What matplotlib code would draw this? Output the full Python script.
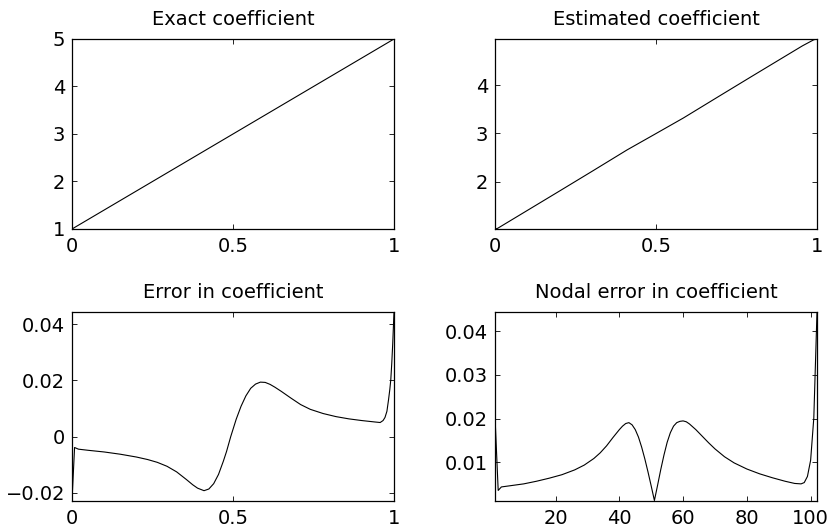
"""Coefficient recovery: exact vs estimated coefficient and the error, 2x2 panel figure."""
import numpy as np
import matplotlib
matplotlib.use('Agg')
import matplotlib.pyplot as plt
from matplotlib.ticker import FuncFormatter

###################################################################################################
# Data
###################################################################################################
exact_x = [0.0, 1.0]
exact_coef = [1.0, 5.0]

est_x = [0.0, 0.008, 0.1, 0.2, 0.3, 0.41, 0.493, 0.585, 0.7, 0.8, 0.9, 0.955, 0.99, 1.0]
est_coef = [1.0228, 1.0359, 1.4055, 1.8072, 2.2110, 2.6593, 2.9720, 3.3206, 3.7880, 4.1924,
            4.5943, 4.8149, 4.9398, 4.9556]

err_x = [0.0, 0.008, 0.02, 0.05, 0.10, 0.15, 0.20, 0.235, 0.265, 0.295, 0.325, 0.355, 0.375,
         0.39, 0.41, 0.425, 0.44, 0.455, 0.47, 0.48, 0.493, 0.51, 0.525, 0.54, 0.555, 0.57,
         0.585, 0.60, 0.615, 0.63, 0.65, 0.68, 0.71, 0.74, 0.78, 0.82, 0.86, 0.90, 0.94, 0.957,
         0.966, 0.972, 0.978, 0.983, 0.987, 0.990, 0.993, 0.996, 1.0]
err_val = [-0.0228, -0.0039, -0.0045, -0.0049, -0.0055, -0.0063, -0.0073, -0.0082, -0.0092,
           -0.0106, -0.0126, -0.0153, -0.0172, -0.0184, -0.0193, -0.0187, -0.0168, -0.0135,
           -0.0088, -0.0053, 0.0000, 0.0062, 0.0108, 0.0145, 0.0172, 0.0187, 0.0194, 0.0193,
           0.0186, 0.0176, 0.0161, 0.0137, 0.0114, 0.0097, 0.0082, 0.0071, 0.0063, 0.0057,
           0.0052, 0.0050, 0.0057, 0.0068, 0.0090, 0.0131, 0.0168, 0.0202, 0.0260, 0.0330,
           0.0444]

node_idx = [1, 2, 3, 6, 10, 14, 18, 22, 26, 29, 32, 34, 36, 38, 40, 41, 42, 43, 44, 45, 46, 47,
            48, 49, 50, 51, 52, 53, 54, 55, 56, 57, 58, 59, 60, 61, 62, 64, 66, 68, 70, 73, 76,
            80, 84, 88, 92, 95, 97, 98, 99, 100, 101, 102]
node_err = [0.0205, 0.0036, 0.0044, 0.0047, 0.0051, 0.0057, 0.0064, 0.0072, 0.0083, 0.0094,
            0.0109, 0.0122, 0.0138, 0.0157, 0.0175, 0.0183, 0.0189, 0.0191, 0.0186, 0.0175,
            0.0158, 0.0135, 0.0108, 0.0078, 0.0046, 0.0013, 0.0048, 0.0084, 0.0117, 0.0146,
            0.0168, 0.0183, 0.0191, 0.0194, 0.0195, 0.0193, 0.0188, 0.0175, 0.0160, 0.0145,
            0.0131, 0.0113, 0.0099, 0.0085, 0.0074, 0.0065, 0.0057, 0.0052, 0.0051, 0.0054,
            0.0068, 0.0105, 0.0202, 0.0444]

###################################################################################################
# Plotting
###################################################################################################
plt.rcParams['font.family'] = ['DejaVu Sans']
plt.rcParams['font.size'] = 14

fmt = FuncFormatter(lambda v, pos: f'{v:g}'.replace('-', '\u2212'))


def panel(fig, rect, x, y, title, yticks, xticks):
    """One tight, boxed panel with inward ticks on all four sides."""
    ax = fig.add_axes(rect)
    ax.plot(x, y, color='black', linewidth=0.8)
    ax.set_xlim(min(x), max(x))
    ax.set_ylim(min(y), max(y))
    ax.set_xticks(xticks)
    ax.set_yticks(yticks)
    ax.xaxis.set_major_formatter(fmt)
    ax.yaxis.set_major_formatter(fmt)
    ax.tick_params(direction='in', length=3.5, width=0.6, top=True, right=True)
    ax.tick_params(axis='x', pad=6)
    ax.tick_params(axis='y', pad=5)
    for sp in ax.spines.values():
        sp.set_linewidth(0.9)
    ax.set_title(title, fontsize=14, pad=10)
    return ax


fig = plt.figure(figsize=(8.31, 5.32), dpi=100)
w = 322 / 831
h_top = 190 / 532
h_bot = 188.5 / 532
left1 = 72 / 831
left2 = 495 / 831
bot_top = 1 - 229 / 532
bot_bot = 1 - 500.5 / 532

panel(fig, [left1, bot_top, w, h_top], exact_x, exact_coef, 'Exact coefficient',
      [1, 2, 3, 4, 5], [0, 0.5, 1])
panel(fig, [left2, bot_top, w, h_top], est_x, est_coef, 'Estimated coefficient',
      [2, 3, 4], [0, 0.5, 1])
panel(fig, [left1, bot_bot, w, h_bot], err_x, err_val, 'Error in coefficient',
      [-0.02, 0, 0.02, 0.04], [0, 0.5, 1])
panel(fig, [left2, bot_bot, w, h_bot], node_idx, node_err, 'Nodal error in coefficient',
      [0.01, 0.02, 0.03, 0.04], [20, 40, 60, 80, 100])

fig.savefig('out.png', dpi=100)
